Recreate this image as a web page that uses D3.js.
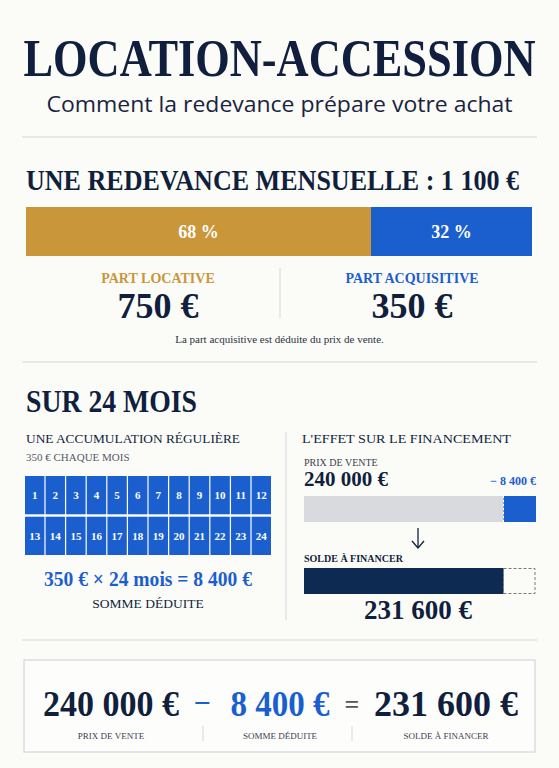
<!DOCTYPE html>
<html><head><meta charset="utf-8">
<script src="https://cdn.jsdelivr.net/npm/d3@7"></script>
<style>body{margin:0;background:#fbfbf8}svg{display:block}</style>
</head><body>
<script>
const title = "LOCATION-ACCESSION";
const subtitle = "Comment la redevance prépare votre achat";
const monthlyFee = 1100;
const shareLabels = ["PART LOCATIVE", "PART ACQUISITIVE"];
const shareValues = [750, 350];
const sharePercents = ["68 %", "32 %"];
const months = [1,2,3,4,5,6,7,8,9,10,11,12,13,14,15,16,17,18,19,20,21,22,23,24];
const salePrice = 240000;
const deducted = 8400;
const balance = 231600;

const W = 559, H = 768;
const NAVY = "#0f1f3d", GOLD = "#c9973a", BLUE = "#1b5fcf", DARK = "#0c2a52", GREY = "#d9dadd", LINE = "#d4d6da";
const SERIF = "'DejaVu Serif Condensed','Liberation Serif',serif";
const LSERIF = "'Liberation Serif',serif";
const SANS = "'Open Sans','Noto Sans',sans-serif";
const fmt = v => d3.format(",")(v).replace(/,/g, " ") + " €";

const svg = d3.select("body").append("svg").attr("width", W).attr("height", H);
svg.append("rect").attr("width", W).attr("height", H).attr("fill", "#fbfbf8");

function txt(x, y, s, o) {
  const t = svg.append("text").attr("x", x).attr("y", y).text(s)
    .attr("font-family", o.f || SERIF).attr("font-size", o.s).attr("font-weight", o.w || "bold")
    .attr("fill", o.c || NAVY).attr("text-anchor", o.a || "start");
  if (o.len) t.attr("textLength", o.len).attr("lengthAdjust", "spacingAndGlyphs");
  return t;
}
function hline(y, x1 = 22, x2 = 537) { svg.append("line").attr("x1", x1).attr("x2", x2).attr("y1", y).attr("y2", y).attr("stroke", LINE).attr("stroke-width", 1.2); }
function vline(x, y1, y2) { svg.append("line").attr("x1", x).attr("x2", x).attr("y1", y1).attr("y2", y2).attr("stroke", LINE).attr("stroke-width", 1); }

txt(W/2, 76, title, {s: 52, a: "middle", f: LSERIF, len: 512});
txt(W/2, 112, subtitle, {s: 22, a: "middle", f: SANS, w: "normal", c: "#1a2440", len: 466});
hline(137);

txt(26, 190, "UNE REDEVANCE MENSUELLE : " + d3.format(",")(monthlyFee).replace(/,/g, " ") + " €", {s: 30, f: LSERIF, len: 493});

// share bar
const xs = d3.scaleLinear().domain([0, monthlyFee]).range([26, 532]);
let acc = 0;
const segs = shareValues.map((v, i) => { const s = {v, i, x0: acc}; acc += v; return s; });
svg.selectAll(".seg").data(segs).join("rect")
  .attr("x", d => xs(d.x0)).attr("width", d => xs(d.x0 + d.v) - xs(d.x0))
  .attr("y", 207).attr("height", 49).attr("fill", d => d.i ? BLUE : GOLD);
svg.selectAll(".pct").data(segs).join("text")
  .attr("x", d => xs(d.x0 + d.v/2)).attr("y", 238).attr("text-anchor", "middle")
  .attr("font-family", LSERIF).attr("font-weight", "bold").attr("font-size", 18).attr("fill", "#fff").text(d => sharePercents[d.i]);
const shareCx = [158, 412];
segs.forEach(d => {
  txt(shareCx[d.i], 283, shareLabels[d.i], {s: 14, a: "middle", f: LSERIF, c: d.i ? BLUE : GOLD});
  txt(shareCx[d.i], 318, fmt(d.v), {s: 36, a: "middle", f: LSERIF});
});
vline(280, 268, 318);
txt(W/2, 343, "La part acquisitive est déduite du prix de vente.", {s: 11, a: "middle", f: LSERIF, w: "normal", c: "#2a3245"});
hline(362);

txt(26, 412, "SUR 24 MOIS", {s: 32, f: LSERIF, len: 171});
txt(26, 443, "UNE ACCUMULATION RÉGULIÈRE", {s: 13.5, f: LSERIF, w: "normal", len: 214});
txt(26, 461, "350 € CHAQUE MOIS", {s: 11, f: LSERIF, w: "normal", c: "#555b66"});

// months grid
const gx = d3.scaleBand().domain(d3.range(12)).range([25, 271]).paddingInner(0.06);
const gy = d3.scaleBand().domain([0, 1]).range([476, 555]).paddingInner(0.06);
const cells = svg.selectAll(".cell").data(months).join("g")
  .attr("transform", (d, i) => `translate(${gx(i % 12)},${gy(Math.floor(i / 12))})`);
cells.append("rect").attr("width", gx.bandwidth()).attr("height", gy.bandwidth()).attr("fill", BLUE);
cells.append("text").attr("x", gx.bandwidth()/2).attr("y", gy.bandwidth()/2 + 4).attr("text-anchor", "middle")
  .attr("font-family", LSERIF).attr("font-size", 11).attr("font-weight", "bold").attr("fill", "#fff").text(d => d);

txt(148, 586, "350 € × 24 mois = " + fmt(deducted), {s: 20, a: "middle", f: LSERIF, c: BLUE, len: 208});
txt(148, 608, "SOMME DÉDUITE", {s: 13.5, a: "middle", f: LSERIF, w: "normal"});
vline(286, 432, 620);

// financing
txt(302, 443, "L'EFFET SUR LE FINANCEMENT", {s: 13.5, f: LSERIF, w: "normal", len: 209});
txt(304, 466, "PRIX DE VENTE", {s: 10, f: LSERIF, w: "normal", c: "#3a4150"});
txt(304, 486, fmt(salePrice), {s: 21, f: LSERIF});
txt(536, 485, "− " + fmt(deducted), {s: 12, a: "end", f: LSERIF, c: BLUE});
const fx = d3.scaleLinear().domain([180000, salePrice]).range([304, 536]);
svg.append("rect").attr("x", fx(180000)).attr("width", fx(balance) - fx(180000)).attr("y", 496).attr("height", 26).attr("fill", GREY);
svg.append("rect").attr("x", fx(balance)).attr("width", fx(salePrice) - fx(balance)).attr("y", 496).attr("height", 26).attr("fill", BLUE);
svg.append("line").attr("x1", fx(balance)).attr("x2", fx(balance)).attr("y1", 496).attr("y2", 522).attr("stroke", "#fff").attr("stroke-dasharray", "2,2");
svg.append("line").attr("x1", 418).attr("x2", 418).attr("y1", 528).attr("y2", 547).attr("stroke", NAVY).attr("stroke-width", 1.3);
svg.append("path").attr("d", "M412,541 L418,548 L424,541").attr("fill", "none").attr("stroke", NAVY).attr("stroke-width", 1.3);
txt(304, 562, "SOLDE À FINANCER", {s: 10, f: LSERIF, c: NAVY});
svg.append("rect").attr("x", fx(180000)).attr("width", fx(balance) - fx(180000)).attr("y", 568).attr("height", 26).attr("fill", DARK);
svg.append("rect").attr("x", fx(balance)).attr("width", fx(salePrice) - fx(balance) - 1).attr("y", 568.5).attr("height", 25).attr("fill", "none")
  .attr("stroke", "#777").attr("stroke-dasharray", "3,2");
txt(418, 619, fmt(balance), {s: 27, a: "middle", f: LSERIF});
hline(640);

// equation box
svg.append("rect").attr("x", 24).attr("y", 660).attr("width", 511).attr("height", 92).attr("fill", "#fdfdfc").attr("stroke", LINE).attr("stroke-width", 1.2);
txt(111, 716, fmt(salePrice), {s: 36, a: "middle", f: LSERIF, len: 136});
txt(202, 713, "−", {s: 30, a: "middle", f: LSERIF, c: BLUE});
txt(280, 716, fmt(deducted), {s: 36, a: "middle", f: LSERIF, c: BLUE, len: 99});
txt(352, 713, "=", {s: 26, a: "middle", f: LSERIF, c: "#555"});
txt(446, 716, fmt(balance), {s: 36, a: "middle", f: LSERIF, len: 144});
txt(111, 739, "PRIX DE VENTE", {s: 9, a: "middle", f: LSERIF, w: "normal", c: "#3a4150"});
txt(280, 739, "SOMME DÉDUITE", {s: 9, a: "middle", f: LSERIF, w: "normal", c: "#3a4150"});
txt(446, 739, "SOLDE À FINANCER", {s: 9, a: "middle", f: LSERIF, w: "normal", c: "#3a4150"});
vline(203, 726, 741); vline(352, 726, 741);
</script>
</body></html>
